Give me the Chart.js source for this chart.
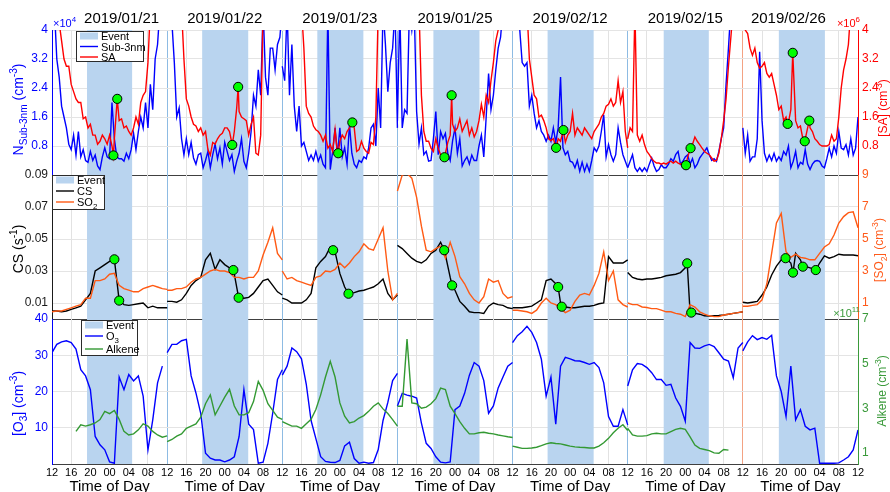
<!DOCTYPE html>
<html>
<head>
<meta charset="utf-8">
<title>Nocturnal events: sub-3nm particles, sulfuric acid, CS, SO2, O3 and alkenes</title>
<script src="https://cdn.jsdelivr.net/npm/chart.js@4.4.1/dist/chart.umd.min.js"></script>
<style>
  html, body { margin: 0; padding: 0; background: #ffffff; }
  #stage { position: relative; width: 890px; height: 492px; overflow: hidden; background: #ffffff; }
  #stage canvas { position: absolute; left: 0; top: 0; }
</style>
</head>
<body>
<div id="stage">
  <canvas id="panelTop" width="890" height="492"></canvas>
  <canvas id="panelMid" width="890" height="492"></canvas>
  <canvas id="panelBot" width="890" height="492"></canvas>
</div>
<script>
// ---------------- data ----------------
// Each day runs from 12:00 to 12:00 the next day.
const days = ['2019/01/21', '2019/01/22', '2019/01/23', '2019/01/25', '2019/02/12', '2019/02/15', '2019/02/26'];
const hourLabels = ['12', '16', '20', '00', '04', '08'];

// event window, local time of day (start in the evening, end the next morning)
const eventStart = [19.3, 19.3, 19.3, 19.5, 19.3, 19.5, 19.5];
const eventEnd   = [4.7, 4.9, 4.9, 5.1, 4.9, 4.9, 5.1];

// N sub-3nm, x10^4 cm^-3, half-hourly (49 per day)
const sub3nm = [
  [4.6, 4.6, 3.2, 2.7, 1.9, 1.6, 1.3, 0.85, 0.7, 1.1, 0.55, 1.2, 0.5, 0.7, 0.4, 0.35, 0.65, 0.4, 0.55, 0.25, 0.15, 0.5, 0.75, 0.5, 0.45, 2.0, 1.0, 0.5, 0.45, 0.45, 0.38, 0.6, 0.45, 0.7, 1.15, 0.7, 1.2, 1.6, 1.3, 2.0, 1.3, 2.5, 1.8, 3.2, 3.6, 4.6, 4.6, 4.6, 4.6],
  [4.6, 4.6, 4.2, 3.1, 1.6, 1.85, 1.0, 0.55, 1.0, 0.56, 0.9, 0.47, 0.3, 0.56, 0.6, 0.2, 0.4, 0.65, 0.2, 0.56, 0.85, 0.45, 0.75, 0.3, 0.9, 0.65, 0.4, 0.56, 0.1, 0.38, 0.6, 1.0, 0.38, 0.2, 0.6, 1.2, 2.2, 1.9, 2.9, 2.2, 4.6, 2.7, 2.2, 3.5, 3.5, 2.9, 3.6, 3.8, 4.6],
  [3.0, 2.6, 4.6, 2.2, 3.6, 1.9, 1.2, 1.9, 0.8, 0.9, 0.65, 0.4, 0.55, 0.4, 0.65, 0.38, 0.55, 0.3, 0.2, 4.6, 0.15, 0.65, 1.3, 0.55, 1.3, 0.5, 0.75, 0.3, 1.4, 0.6, 0.3, 0.2, 0.4, 0.35, 0.5, 0.45, 0.75, 1.3, 1.4, 0.8, 2.4, 1.3, 4.6, 3.6, 2.3, 3.1, 3.5, 4.6, 1.3],
  [1.5, 4.6, 1.3, 1.8, 1.7, 4.6, 4.0, 4.6, 1.75, 0.85, 1.3, 0.56, 0.65, 0.38, 0.4, 1.0, 1.75, 0.56, 1.2, 1.0, 1.15, 0.6, 0.4, 0.95, 1.3, 0.6, 1.0, 0.25, 0.4, 0.5, 0.3, 0.55, 0.4, 0.4, 0.8, 1.1, 0.5, 1.6, 2.8, 1.8, 2.2, 2.9, 3.5, 3.8, 4.6, 4.6, 4.6, 4.6, 4.6],
  [4.6, 4.6, 4.2, 4.0, 3.1, 3.0, 3.1, 1.9, 2.2, 1.7, 1.3, 1.5, 1.2, 1.1, 0.93, 1.1, 0.93, 1.3, 0.9, 1.3, 2.7, 0.75, 0.56, 0.65, 0.38, 0.35, 0.2, 0.4, 0.1, 0.35, 0.1, 0.3, 0.1, 0.4, 0.75, 0.65, 0.8, 1.2, 1.66, 0.5, 0.84, 0.56, 0.38, 0.56, 1.3, 0.9, 0.56, 0.38, 0.2],
  [0.2, 0.38, 0.56, 0.2, 0.1, 0.2, 0.1, 0.2, 0.1, 0.3, 0.47, 0.25, 0.1, 0.15, 0.28, 0.2, 0.2, 0.3, 0.45, 0.38, 0.56, 0.65, 0.3, 0.38, 0.5, 0.56, 0.3, 0.45, 0.2, 0.3, 0.47, 0.56, 0.65, 0.75, 0.56, 0.4, 0.45, 0.38, 0.65, 1.0, 1.3, 2.5, 3.5, 4.6, 4.6, 4.6, 4.6, 4.6, 4.6],
  [1.3, 0.6, 1.1, 0.38, 0.5, 0.5, 1.0, 3.4, 1.5, 0.6, 0.38, 0.55, 0.4, 0.6, 0.38, 0.5, 0.4, 0.65, 0.55, 0.8, 0.2, 0.38, 0.65, 0.2, 0.35, 0.3, 0.7, 0.3, 0.15, 0.3, 0.38, 0.4, 0.38, 0.25, 0.2, 0.45, 0.74, 0.5, 0.8, 0.6, 1.2, 0.74, 0.7, 0.84, 0.55, 1.0, 0.55, 0.74, 1.6]
];

// [SA], x10^6 cm^-3, half-hourly (49 per day)
const sa = [
  [null, null, 4.6, 4.2, 3.7, 3.2, 3.0, 3.0, 2.5, 2.3, 2.1, 2.0, 2.0, 1.55, 1.6, 1.3, 1.4, 1.1, 1.1, 0.85, 0.93, 1.1, 1.0, 0.85, 1.1, 0.8, 1.0, 2.0, 1.5, 1.55, 1.3, 1.35, 1.2, 1.1, 1.3, 1.6, 1.4, 2.0, 2.2, 2.3, 3.1, 4.6, 4.6, 4.6, 4.6, 4.6, 4.6, 4.6, 4.6],
  [4.6, 4.6, 4.6, 4.6, 4.6, 4.6, 4.6, 3.2, 2.1, 1.9, 1.6, 1.4, 1.35, 1.2, 1.3, 1.1, 1.2, 0.7, 0.55, 0.9, 0.85, 1.0, 1.1, 1.15, 1.3, 1.3, 1.2, 0.83, 1.2, 1.85, 1.75, 1.6, 1.55, 1.5, 1.1, 1.4, 1.6, 0.6, 0.55, 1.1, 4.6, 4.6, 4.6, 4.6, 4.6, 4.6, 4.6, 4.6, 4.6],
  [null, null, null, null, null, null, null, 4.6, 4.6, 3.5, 1.9, 1.7, 1.6, 1.35, 1.25, 1.2, 1.1, 0.93, 1.1, 0.74, 0.84, 0.65, 1.25, 0.6, 0.93, 1.1, 1.0, 1.2, 1.3, 1.4, 1.3, 0.65, 0.7, 0.93, 0.74, 0.65, 0.6, 0.9, 0.84, 1.6, 4.6, 4.6, 4.6, 4.6, 4.6, 4.6, 4.6, 4.6, 4.6],
  [null, null, null, null, null, null, null, null, null, 4.6, 2.2, 1.2, 0.93, 0.93, 0.74, 0.65, 1.0, 0.74, 0.56, 0.56, 0.6, 0.9, 1.1, 1.4, 1.2, 1.3, 1.55, 1.2, 1.35, 1.5, 1.1, 1.3, 1.05, 1.2, 1.5, 1.95, 1.6, 2.2, 2.0, 2.6, 3.1, 3.7, 4.0, 4.6, 4.6, 4.6, 4.6, 4.6, 4.6],
  [null, null, null, null, null, 4.6, 4.6, 3.2, 2.7, 2.2, 2.1, 1.6, 1.65, 1.5, 1.3, 1.0, 0.95, 1.0, 0.75, 1.0, 0.93, 1.24, 0.9, 1.1, 1.2, 1.7, 1.1, 1.3, 1.2, 1.1, 1.3, 1.2, 1.1, 1.0, 1.2, 1.3, 1.4, 1.6, 1.7, 1.9, 1.95, 2.1, 1.9, 2.0, 2.6, 2.0, 2.3, 1.2, 0.75],
  [1.0, 1.3, 1.2, 4.6, 1.1, 0.93, 1.1, 0.84, 0.65, 0.56, 0.45, 0.38, 0.33, 0.33, 0.3, 0.33, 0.3, 0.35, 0.38, 0.33, 0.38, 0.33, 0.3, 0.33, 0.27, 0.5, 0.74, 0.84, 1.05, 0.93, 0.84, 0.74, 0.65, 0.6, 0.56, 0.47, 0.38, 0.4, 0.6, 1.0, 1.5, 2.1, 3.0, 3.8, 4.6, 4.6, 4.6, 4.6, 4.6],
  [4.6, 4.0, 3.9, 3.5, 3.3, 3.5, 3.1, 2.95, 3.0, 3.1, 2.8, 2.7, 2.8, 2.5, 2.2, 1.8, 1.9, 1.5, 1.6, 1.45, 1.8, 1.7, 1.5, 1.3, 1.35, 1.0, 0.93, 1.3, 1.3, 1.2, 1.0, 0.93, 0.84, 0.8, 0.8, 0.8, 0.84, 1.1, 0.93, 1.0, 1.6, 2.4, 2.9, 3.2, 3.6, 4.6, 4.6, 4.6, 4.6]
];

// condensation sink, s^-1, hourly (25 per day)
const cs = [
  [0.005, 0.005, 0.0045, 0.005, 0.006, 0.007, 0.008, 0.012, 0.016, 0.030, 0.032, 0.034, 0.036, 0.0373, 0.0115, 0.009, 0.0085, 0.009, 0.0095, 0.010, 0.007, 0.008, 0.007, 0.007, 0.007],
  [0.011, 0.011, 0.0105, 0.012, 0.016, 0.021, 0.024, 0.026, 0.037, 0.041, 0.031, 0.037, 0.034, 0.032, 0.028, 0.0135, 0.013, 0.0135, 0.016, 0.020, 0.024, 0.025, 0.021, 0.017, 0.015],
  [0.013, 0.012, 0.010, 0.010, 0.010, 0.012, 0.016, 0.032, 0.036, 0.039, 0.045, 0.042, 0.0285, 0.020, 0.016, 0.0165, 0.0175, 0.018, 0.019, 0.020, 0.022, 0.025, 0.016, 0.012, 0.015],
  [0.046, 0.044, 0.041, 0.038, 0.036, 0.035, 0.037, 0.041, 0.043, 0.048, 0.040, 0.026, 0.018, 0.011, 0.008, 0.0045, 0.004, 0.004, 0.0035, 0.008, 0.010, 0.009, 0.0085, 0.007, 0.0065],
  [0.007, 0.007, 0.007, 0.0075, 0.008, 0.010, 0.012, 0.024, 0.025, 0.022, 0.010, 0.0075, 0.007, 0.007, 0.0075, 0.008, 0.008, 0.0085, 0.0095, 0.010, 0.039, 0.035, 0.035, 0.035, 0.037],
  [0.029, 0.026, 0.025, 0.0245, 0.025, 0.025, 0.0255, 0.026, 0.027, 0.0275, 0.028, 0.029, 0.032, 0.004, 0.0035, 0.003, 0.002, 0.0018, 0.002, 0.0022, 0.0025, 0.003, 0.0035, 0.004, 0.0045],
  [0.0105, 0.010, 0.0105, 0.011, 0.015, 0.020, 0.0275, 0.033, 0.037, 0.0375, 0.035, 0.041, 0.037, 0.033, 0.032, 0.031, 0.035, 0.0395, 0.038, 0.039, 0.0405, 0.040, 0.040, 0.040, 0.0395]
];

// [SO2], hourly
const so2 = [
  [0.45, 0.5, 0.5, 0.6, 0.7, 0.8, 0.9, 1.3, 1.3, 2.4, 2.4, 2.5, 2.8, 2.85, 2.1, 1.9, 1.8, 1.7, 1.7, 1.9, 2.0, 2.1, 2.0, 1.9, 1.85],
  [1.8, 1.8, 1.9, 1.9, 2.0, 2.3, 2.5, 2.6, 2.8, 3.0, 3.1, 3.0, 3.0, 2.9, 2.6, 2.6, 2.5, 2.6, 2.6, 3.0, 4.0, 4.8, 5.7, 4.1, 3.7],
  [3.0, 2.5, 2.6, 2.4, 2.3, 2.2, 2.1, 2.6, 2.7, 3.0, 2.95, 3.1, 3.5, 3.2, 3.5, 3.9, 4.2, 4.7, 4.4, 4.3, 5.0, 5.7, 3.0, 1.2, 1.6],
  [8.0, 9.0, 9.1, 8.8, 7.6, 5.8, 4.3, 4.2, 4.4, 4.55, 3.8, 4.8, 3.9, 2.65, 2.2, 1.6, 1.2, 1.0, 1.4, 2.5, 2.3, 2.4, 1.6, 1.3, 1.4],
  [0.55, 0.55, 0.5, 0.45, 0.35, 0.55, 1.0, 1.3, 1.0, 0.9, 0.65, 0.4, 0.55, 1.1, 1.5, 1.6, 1.5, 2.1, 2.85, 4.2, 2.4, 3.0, 1.2, 0.9, 0.75],
  [1.0, 0.9, 0.9, 0.75, 0.72, 0.65, 0.65, 0.55, 0.45, 0.45, 0.35, 0.3, 0.15, 0.9, 0.75, 0.45, 0.3, 0.2, 0.15, 0.15, 0.25, 0.3, 0.35, 0.4, 0.45],
  [0.8, 0.8, 0.85, 0.9, 1.2, 2.2, 4.1, 6.0, 6.6, 4.2, 3.85, 4.05, 3.85, 3.8, 3.7, 3.7, 4.1, 4.5, 4.7, 5.25, 6.0, 6.4, 6.65, 6.7, 5.7]
];

// [O3], hourly
const o3 = [
  [30.7, 33, 33.7, 34, 33.5, 31.7, 26, 24.3, 20.5, 7.6, 5.3, 3.9, 0.6, 0.2, 24, 20.5, 24.7, 22.9, 24.3, 18.7, 3.9, 12.2, 22.4, 27, null],
  [30.7, 33, 33, 34, 34.4, 24.3, 19.6, 14, 3, 1.6, 1.1, 1.1, 0.6, 1.1, 2, 7.6, 20.5, 11, 9.5, 0.2, 0.5, 5.7, 14, 23.3, 26],
  [24.5, 27, 32, 31, 29, 22, 12, 7, 2, 0.7, 0.5, 0.4, 1, 5, 6, 1.5, 0.2, 0.5, 0.2, 0.4, 4, 12, 17, 23, 25],
  [16, 19.5, 19, 18.7, 18.2, 11.3, 5.7, 4.3, 2, 0.5, 0.3, 0.6, 15, 16, 19.5, 24.5, 28, 27, 23, 14, 16, 21, 24, 27, 28],
  [33.5, 35.4, 36.5, 38, 36.3, 33.5, 28.9, 18.7, 24, 11, 27, 29.4, 29, 28.5, 28.4, 28, 27.5, 28, 26.6, 22.4, 13.1, 10.4, 10.4, 15, 10.8],
  [21.5, 26, 27.7, 27.5, 26.6, 25.2, 23.3, 23.3, 21.7, 22, 18.2, 15.9, 11.8, 33.5, 32, 31.9, 32.6, 33, 32.4, 30.7, 28.9, 28.4, 23.8, 32, 33.5],
  [31.2, 33.7, 35.4, 34.3, 34.9, 34.4, 35.5, 24.3, 20, 13.1, 27, 12.2, 15, 10.4, 9.4, 9.9, 0.2, 0.2, 0.2, 0.2, 0.3, 1.1, 2, 3.9, 9.4]
];

// alkenes, x10^11 cm^-3, hourly
const alkene = [
  [null, null, null, null, null, 1.96, 2.26, 2.2, 2.26, 2.34, 2.49, 2.86, 2.76, 2.9, 2.5, 1.96, 1.8, 1.85, 2.03, 2.3, 2.2, 1.96, 1.8, 1.7, 1.76],
  [1.5, 1.6, 1.75, 1.85, 2.1, 2.2, 2.3, 2.6, 3.2, 3.6, 2.7, 3.1, 3.5, 3.85, 3.1, 2.7, 2.7, 2.8, 3.3, 4.2, 3.8, 3.2, 2.9, 2.6, 2.5],
  [2.4, 2.3, 2.2, 2.2, 2.1, 2.3, 2.5, 2.94, 3.6, 4.4, 5.1, 4.4, 3.24, 2.64, 2.34, 2.4, 2.56, 2.67, 2.86, 3.09, 3.24, 2.97, 2.76, 2.49, 2.2],
  [3.09, 3.09, 6.1, 3.24, 3.2, 3.0, 3.05, 3.2, 3.43, 3.9, 3.84, 3.09, 2.76, 2.4, 2.1, 1.85, 1.85, 1.9, 1.92, 1.88, 1.85, 1.8, 1.76, 1.72, 1.69],
  [1.3, 1.25, 1.2, 1.2, 1.22, 1.25, 1.32, 1.4, 1.45, 1.42, 1.4, 1.35, 1.3, 1.27, 1.25, 1.24, 1.22, 1.22, 1.3, 1.45, 1.65, 1.9, 2.1, 2.26, 2.0],
  [2.1, 1.8, 1.75, 1.75, 1.77, 1.85, 1.88, 1.85, 1.85, 1.95, 2.05, 2.1, 2.05, 1.72, 1.35, 1.2, 1.15, 1.1, 1.0, 0.98, 1.15, 1.12, null, null, null],
  [null, null, null, null, null, null, null, null, null, null, null, null, null, null, null, null, null, null, null, null, null, null, null, null, null]
];

// event markers: [day index, hours after 12:00, value]
const saMarks = [
  [0, 12.8, 0.54], [0, 13.6, 2.1], [1, 13.57, 0.83], [1, 14.8, 2.43],
  [2, 11.65, 0.6], [2, 14.6, 1.45], [3, 9.8, 0.49], [3, 11.3, 2.2],
  [4, 9.07, 0.75], [4, 10.6, 1.24], [5, 12.15, 0.27], [5, 13.1, 0.74],
  [6, 9.33, 1.41], [6, 10.4, 3.37], [6, 12.9, 0.93], [6, 13.85, 1.5]
];
const csMarks = [
  [0, 13.0, 0.0373], [0, 14.0, 0.0115], [1, 13.8, 0.0306], [1, 14.9, 0.0133],
  [2, 10.6, 0.043], [2, 13.8, 0.0158], [3, 9.75, 0.043], [3, 11.4, 0.021],
  [4, 9.5, 0.020], [4, 10.25, 0.0077], [5, 12.4, 0.0348], [5, 13.25, 0.004],
  [6, 8.9, 0.038], [6, 10.45, 0.029], [6, 12.5, 0.0327], [6, 15.2, 0.0306]
];

// ---------------- helpers ----------------
const FONT = '"Liberation Sans", Arial, Helvetica, sans-serif';
Chart.defaults.font.family = FONT;
const SPAN = 24;
const XMAX = days.length * SPAN;
const EVENT_FILL = '#b9d4ef';
const CLEAR = 'rgba(0,0,0,0)';
const LINE_W = 1.4;

// one continuous x axis in hours; days are separated by gaps
function buildLine(rows, step, marks) {
  const pts = [];
  rows.forEach((row, k) => {
    const extra = (marks || []).filter(m => m[0] === k).map(m => ({ x: m[1], y: m[2] }));
    const regular = row.map((v, i) => ({ x: i * step, y: v }))
      .filter(p => !extra.some(e => Math.abs(e.x - p.x) < 0.15));
    regular.concat(extra).sort((a, b) => a.x - b.x)
      .forEach(p => pts.push({ x: k * SPAN + p.x, y: p.y }));
    pts.push({ x: k * SPAN + SPAN, y: null });
  });
  return pts;
}
function buildMarks(marks) {
  return marks.map(m => ({ x: m[0] * SPAN + m[1], y: m[2] }));
}

function lineSet(label, data, color, axis, order) {
  return { type: 'line', label, data, yAxisID: axis, xAxisID: 'x', borderColor: color, backgroundColor: color,
           borderWidth: LINE_W, pointRadius: 0, pointHoverRadius: 0, tension: 0, spanGaps: false, fill: false, order };
}
function markSet(label, data, axis) {
  return { type: 'line', label, data, yAxisID: axis, xAxisID: 'x', showLine: false, pointRadius: 4.6,
           pointHoverRadius: 4.6, pointBackgroundColor: '#00ff00', pointBorderColor: '#000000', pointBorderWidth: 1, order: 0 };
}

function xGridColor(v) {
  if (v === 0 || v === XMAX) return CLEAR;
  if (v % SPAN === 0) return v === 6 * SPAN ? '#f3a283' : '#8dbbe3';
  return '#e2e2e2';
}

function xScales(showLabels) {
  const sc = {
    x: {
      type: 'linear', position: 'bottom', min: 0, max: XMAX, weight: 0,
      afterBuildTicks: s => { const t = []; for (let v = 0; v <= XMAX; v += 4) t.push({ value: v }); s.ticks = t; },
      grid: { drawTicks: false, lineWidth: 1, color: c => xGridColor(c.tick ? c.tick.value : -1) },
      border: { display: true, color: '#404040', width: 1 },
      ticks: { display: showLabels, autoSkip: false, maxRotation: 0, minRotation: 0, color: '#000000',
               font: { size: 11 }, padding: 2, callback: v => hourLabels[(v % SPAN) / 4] },
      afterFit: s => { s.height = showLabels ? 14 : 0; }
    }
  };
  if (showLabels) {
    sc.xt = {
      type: 'linear', position: 'bottom', min: 0, max: XMAX, weight: 1,
      afterBuildTicks: s => { s.ticks = days.map((d, k) => ({ value: k * SPAN + SPAN / 2 })); },
      grid: { display: false, drawTicks: false }, border: { display: false },
      ticks: { autoSkip: false, maxRotation: 0, minRotation: 0, color: '#000000', font: { size: 15 }, padding: 0,
               callback: () => 'Time of Day' },
      afterFit: s => { s.height = 14; }
    };
  }
  return sc;
}

function yScale(side, o) {
  return {
    type: 'linear', position: side, min: o.min, max: o.max,
    afterBuildTicks: s => { s.ticks = o.ticks.map(v => ({ value: v })); },
    ticks: { color: o.color, font: { size: 12 }, padding: 4, callback: o.fmt },
    grid: side === 'left'
      ? { drawTicks: false, lineWidth: 1,
          color: c => (o.hideTop && c.tick && c.tick.value === o.max) ? CLEAR : '#e4e4e4' }
      : { display: false, drawTicks: false },
    border: { display: true, color: o.color, width: 1 },
    afterFit: s => { s.width = side === 'left' ? 52 : 32; }
  };
}

// text with sub/superscripts: parts = [[text, 'sub'|'sup'|undefined], ...]
function drawRich(ctx, parts, x, y, size, color, align) {
  const pieces = parts.map(p => {
    const kind = p[1] || '';
    const s = kind ? size * 0.72 : size;
    ctx.font = s + 'px ' + FONT;
    return { t: p[0], s, dy: kind === 'sub' ? size * 0.3 : (kind === 'sup' ? -size * 0.42 : 0), w: ctx.measureText(p[0]).width };
  });
  const total = pieces.reduce((a, p) => a + p.w, 0);
  let cx = align === 'center' ? x - total / 2 : (align === 'right' ? x - total : x);
  ctx.fillStyle = color; ctx.textBaseline = 'alphabetic'; ctx.textAlign = 'left';
  pieces.forEach(p => { ctx.font = p.s + 'px ' + FONT; ctx.fillText(p.t, cx, y + p.dy); cx += p.w; });
  return total;
}
function drawVertical(ctx, parts, cx, cy, size, color) {
  ctx.save();
  ctx.translate(cx, cy);
  ctx.rotate(-Math.PI / 2);
  drawRich(ctx, parts, 0, size * 0.36, size, color, 'center');
  ctx.restore();
}
function drawLegend(ctx, box, rows) {
  ctx.save();
  ctx.fillStyle = '#ffffff';
  ctx.fillRect(box.x, box.y, box.w, box.h);
  ctx.strokeStyle = '#2b2b2b'; ctx.lineWidth = 1;
  ctx.strokeRect(box.x + 0.5, box.y + 0.5, box.w - 1, box.h - 1);
  rows.forEach(r => {
    const yy = box.y + r.dy;
    if (r.patch) {
      ctx.fillStyle = EVENT_FILL;
      ctx.fillRect(box.x + 4, yy - 3.5, 18, 7);
    } else {
      ctx.strokeStyle = r.color; ctx.lineWidth = LINE_W;
      ctx.beginPath(); ctx.moveTo(box.x + 4, yy); ctx.lineTo(box.x + 22, yy); ctx.stroke();
    }
    drawRich(ctx, r.text, box.x + 25, yy + 4, 11, '#000000', 'left');
  });
  ctx.restore();
}

function decorations(spec) {
  return {
    id: 'decor_' + spec.name,
    beforeDatasetsDraw(chart) {
      const { ctx, chartArea: a, scales: { x } } = chart;
      ctx.save();
      ctx.fillStyle = EVENT_FILL;
      days.forEach((d, k) => {
        const x1 = x.getPixelForValue(k * SPAN + (eventStart[k] - 12));
        const x2 = x.getPixelForValue(k * SPAN + (eventEnd[k] + 12));
        ctx.fillRect(x1, a.top, x2 - x1, a.bottom - a.top);
      });
      ctx.restore();
    },
    afterDatasetsDraw(chart) {
      drawLegend(chart.ctx, spec.legend.box, spec.legend.rows);
    },
    afterDraw(chart) {
      const { ctx, chartArea: a } = chart;
      const mid = (a.top + a.bottom) / 2;
      drawVertical(ctx, spec.leftTitle.parts, 18, mid + spec.leftTitle.dy, 14, spec.leftTitle.color);
      drawVertical(ctx, spec.rightTitle.parts, spec.rightTitle.x, mid + spec.rightTitle.dy, 12, spec.rightTitle.color);
      if (spec.extra) spec.extra(chart);
    }
  };
}

function makePanel(canvasId, spec) {
  return new Chart(document.getElementById(canvasId), {
    type: 'line',
    data: { datasets: spec.datasets },
    options: {
      responsive: false, animation: false, devicePixelRatio: 1, events: [],
      layout: { padding: spec.padding },
      plugins: { legend: { display: false }, tooltip: { enabled: false } },
      scales: Object.assign(xScales(spec.xLabels), { yL: yScale('left', spec.left), yR: yScale('right', spec.right) })
    },
    plugins: [decorations(spec)]
  });
}

// ---------------- panel 1: sub-3nm particles and sulfuric acid ----------------
const fmt1 = v => (v === 4 ? '4' : v.toFixed(1));
makePanel('panelTop', {
  name: 'top',
  padding: { top: 30, bottom: 317, left: 0, right: 0 },
  xLabels: false,
  left:  { min: 0, max: 4, ticks: [0.8, 1.6, 2.4, 3.2, 4], color: '#0000ff', fmt: fmt1 },
  right: { min: 0, max: 4, ticks: [0.8, 1.6, 2.4, 3.2, 4], color: '#ff0000', fmt: fmt1 },
  datasets: [
    markSet('Event marks', buildMarks(saMarks), 'yR'),
    lineSet('SA', buildLine(sa, 0.5, saMarks), '#ff0000', 'yR', 1),
    lineSet('Sub-3nm', buildLine(sub3nm, 0.5), '#0000ff', 'yL', 2)
  ],
  legend: {
    box: { x: 76, y: 31, w: 68, h: 31 },
    rows: [
      { patch: true, dy: 5, text: [['Event']] },
      { color: '#0000ff', dy: 15.5, text: [['Sub-3nm']] },
      { color: '#ff0000', dy: 26, text: [['SA']] }
    ]
  },
  leftTitle:  { parts: [['N'], ['Sub-3nm', 'sub'], [' (cm'], ['-3', 'sup'], [')']], dy: 7, color: '#0000ff' },
  rightTitle: { parts: [['[SA] (cm'], ['-3', 'sup'], [')']], x: 883, dy: 5.5, color: '#ff0000' },
  extra(chart) {
    const { ctx, chartArea: a, scales: { x } } = chart;
    ctx.save();
    ctx.font = '15px ' + FONT; ctx.fillStyle = '#000000'; ctx.textAlign = 'center'; ctx.textBaseline = 'alphabetic';
    days.forEach((d, k) => {
      let px = x.getPixelForValue(k * SPAN + SPAN / 2);
      if (k === 0) px += 12;
      if (k === days.length - 1) px -= 12;
      ctx.fillText(d, px, a.top - 7);
    });
    ctx.restore();
    drawRich(ctx, [['\u00d710'], ['4', 'sup']], a.left + 1, a.top - 3, 11, '#0000ff', 'left');
    drawRich(ctx, [['\u00d710'], ['6', 'sup']], a.right + 2, a.top - 3, 11, '#ff0000', 'right');
  }
});

// ---------------- panel 2: condensation sink and SO2 ----------------
makePanel('panelMid', {
  name: 'mid',
  padding: { top: 175, bottom: 173, left: 0, right: 0 },
  xLabels: false,
  left:  { min: 0, max: 0.09, ticks: [0.01, 0.03, 0.05, 0.07, 0.09], color: '#1a1a1a', fmt: v => v.toFixed(2), hideTop: true },
  right: { min: 0, max: 9, ticks: [1, 3, 5, 7, 9], color: '#ff5a1a', fmt: v => String(v) },
  datasets: [
    markSet('Event marks', buildMarks(csMarks), 'yL'),
    lineSet('SO2', buildLine(so2, 1), '#ff5a14', 'yR', 1),
    lineSet('CS', buildLine(cs, 1, csMarks), '#000000', 'yL', 2)
  ],
  legend: {
    box: { x: 52, y: 175, w: 53, h: 35 },
    rows: [
      { patch: true, dy: 5, text: [['Event']] },
      { color: '#000000', dy: 16, text: [['CS']] },
      { color: '#ff5a14', dy: 27, text: [['SO'], ['2', 'sub']] }
    ]
  },
  leftTitle:  { parts: [['CS (s'], ['-1', 'sup'], [')']], dy: 2, color: '#000000' },
  rightTitle: { parts: [['[SO'], ['2', 'sub'], ['] (cm'], ['-3', 'sup'], [')']], x: 879, dy: 3, color: '#ff5a1a' }
});

// ---------------- panel 3: ozone and alkenes ----------------
makePanel('panelBot', {
  name: 'bot',
  padding: { top: 319, bottom: 0, left: 0, right: 0 },
  xLabels: true,
  left:  { min: 0, max: 40, ticks: [10, 20, 30, 40], color: '#0000ff', fmt: v => String(v), hideTop: true },
  right: { min: 0.5, max: 7, ticks: [1, 3, 5, 7], color: '#3a9a3a', fmt: v => String(v) },
  datasets: [
    lineSet('Alkene', buildLine(alkene, 1), '#339933', 'yR', 1),
    lineSet('O3', buildLine(o3, 1), '#0000ff', 'yL', 2)
  ],
  legend: {
    box: { x: 81, y: 320, w: 57, h: 36 },
    rows: [
      { patch: true, dy: 5, text: [['Event']] },
      { color: '#0000ff', dy: 16, text: [['O'], ['3', 'sub']] },
      { color: '#339933', dy: 29, text: [['Alkene']] }
    ]
  },
  leftTitle:  { parts: [['[O'], ['3', 'sub'], ['] (cm'], ['-3', 'sup'], [')']], dy: 12, color: '#0000ff' },
  rightTitle: { parts: [['Alkene (cm'], ['-3', 'sup'], [')']], x: 882, dy: -0.5, color: '#3a9a3a' },
  extra(chart) {
    const { ctx, chartArea: a } = chart;
    drawRich(ctx, [['\u00d710'], ['11', 'sup']], a.right + 2, a.top - 2, 11, '#3a9a3a', 'right');
  }
});
</script>
</body>
</html>
